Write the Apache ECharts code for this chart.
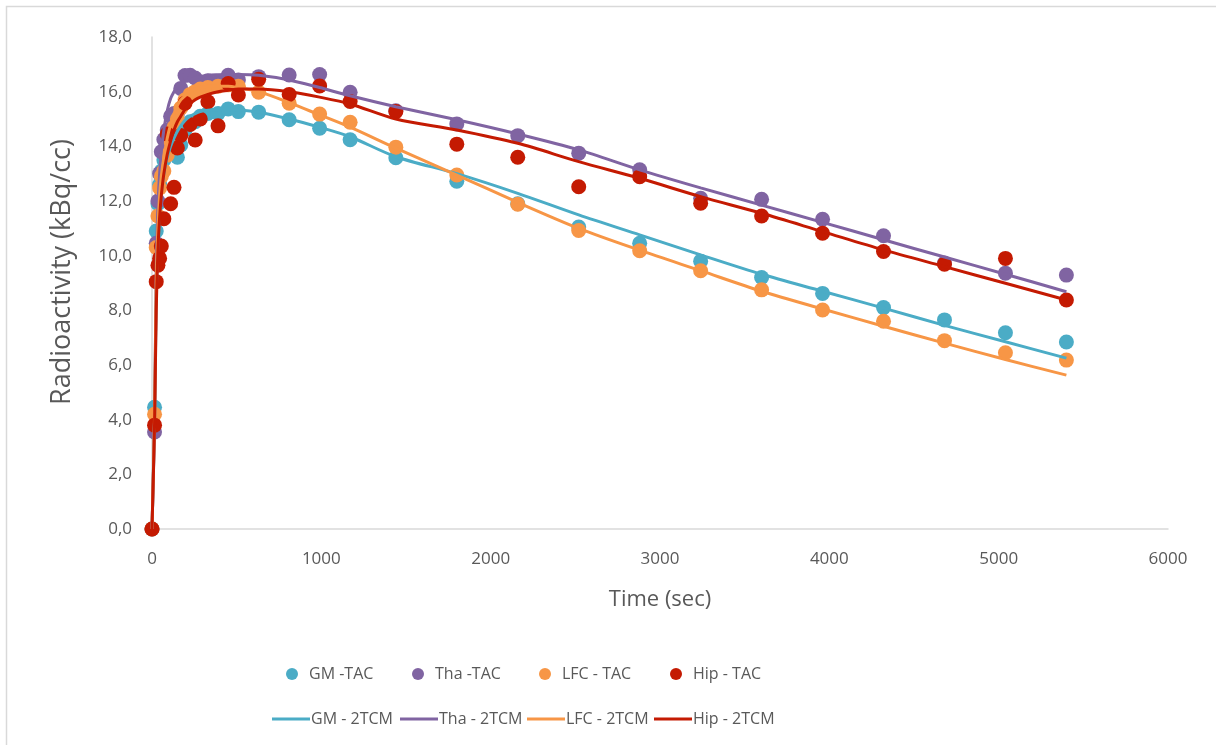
<!DOCTYPE html>
<html>
<head>
<meta charset="utf-8">
<script src="https://cdn.jsdelivr.net/npm/echarts@6/dist/echarts.min.js"></script>
<style>
html, body { margin: 0; padding: 0; background: #fff; }
#chart { width: 1216px; height: 745px; }
</style>
</head>
<body>
<div id="chart"></div>
<script>
// 时间点 (sec)
var times = [0, 15, 25, 35, 45, 55, 70, 90, 110, 130, 150, 170, 195, 225, 255, 285, 330, 390, 450, 510, 630, 810, 990, 1170, 1440, 1800, 2160, 2520, 2880, 3240, 3600, 3960, 4320, 4680, 5040, 5400];

// 实测 TAC
var gmTac  = [0, 4.45, 10.9, 11.9, 12.6, 13.1, 13.5, 13.9, 14.2, 14.4, 13.6, 14.05, 14.6, 14.9, 14.9, 15.1, 15.2, 15.2, 15.37, 15.27, 15.25, 14.97, 14.66, 14.24, 13.58, 12.72, 11.9, 11.05, 10.45, 9.8, 9.2, 8.62, 8.1, 7.65, 7.18, 6.84];
var thaTac = [0, 3.55, 10.45, 12.0, 13.0, 13.8, 14.25, 14.6, 15.1, 15.2, 15.2, 16.12, 16.59, 16.6, 16.5, 16.35, 16.4, 16.35, 16.6, 16.43, 16.55, 16.61, 16.63, 15.98, 15.3, 14.82, 14.39, 13.75, 13.14, 12.1, 12.06, 11.33, 10.73, 9.73, 9.36, 9.29];
var lfcTac = [0, 4.2, 10.3, 11.45, 12.48, 12.9, 13.1, 13.68, 14.2, 14.7, 15.0, 15.4, 15.7, 15.9, 16.0, 16.1, 16.15, 16.2, 16.25, 16.2, 15.98, 15.58, 15.18, 14.88, 13.97, 12.95, 11.88, 10.92, 10.18, 9.45, 8.75, 8.01, 7.6, 6.89, 6.45, 6.18];
var hipTac = [0, 3.8, 9.05, 9.65, 9.9, 10.35, 11.35, 14.45, 11.9, 12.5, 13.94, 14.4, 15.58, 14.8, 14.23, 15.0, 15.63, 14.75, 16.3, 15.88, 16.45, 15.9, 16.21, 15.64, 15.27, 14.08, 13.6, 12.52, 12.89, 11.92, 11.45, 10.82, 10.15, 9.69, 9.9, 8.38];

// 2TCM 拟合
var gmFit  = [0, 4.0, 8.5, 10.5, 11.6, 12.3, 13.0, 13.6, 14.0, 14.3, 14.55, 14.75, 14.95, 15.1, 15.2, 15.27, 15.32, 15.35, 15.35, 15.33, 15.25, 15.0, 14.7, 14.35, 13.62, 13.0, 12.28, 11.49, 10.76, 10.03, 9.32, 8.7, 8.08, 7.45, 6.85, 6.25];
var thaFit = [0, 4.0, 9.5, 11.8, 13.0, 13.8, 14.6, 15.3, 15.75, 16.0, 16.2, 16.3, 16.4, 16.45, 16.5, 16.55, 16.6, 16.62, 16.63, 16.63, 16.6, 16.43, 16.15, 15.85, 15.45, 14.97, 14.45, 13.87, 13.14, 12.48, 11.85, 11.22, 10.58, 9.95, 9.32, 8.68];
var lfcFit = [0, 4.1, 9.0, 11.0, 12.2, 12.9, 13.6, 14.3, 14.8, 15.2, 15.5, 15.7, 15.85, 16.0, 16.1, 16.15, 16.2, 16.2, 16.2, 16.15, 16.0, 15.6, 15.15, 14.7, 13.93, 12.95, 11.95, 11.0, 10.2, 9.45, 8.7, 8.05, 7.42, 6.8, 6.2, 5.63];
var hipFit = [0, 3.8, 8.0, 10.2, 11.4, 12.2, 13.0, 13.7, 14.2, 14.6, 14.9, 15.1, 15.35, 15.55, 15.7, 15.8, 15.9, 16.0, 16.05, 16.1, 16.1, 16.0, 15.8, 15.55, 15.0, 14.6, 14.11, 13.44, 12.83, 12.16, 11.55, 10.88, 10.21, 9.6, 8.99, 8.38];

var tacNames = ['GM -TAC', 'Tha -TAC', 'LFC - TAC', 'Hip - TAC'];
var fitNames = ['GM - 2TCM', 'Tha - 2TCM', 'LFC - 2TCM', 'Hip - 2TCM'];
var colors = ['#4BACC6', '#8064A2', '#F79646', '#C41A02'];

function pairs(vals) {
	var out = [];
	for (var i = 0; i < times.length; i++) {
		out.push([times[i], vals[i]]);
	}
	return out;
}

var tacData = [gmTac, thaTac, lfcTac, hipTac];
var fitData = [gmFit, thaFit, lfcFit, hipFit];

var series = [];
for (var a = 0; a < 4; a++) {
	series.push({
		name: tacNames[a],
		type: 'scatter',
		data: pairs(tacData[a]),
		symbolSize: 15,
		itemStyle: { color: colors[a], opacity: 1 }
	});
}
for (var b = 0; b < 4; b++) {
	series.push({
		name: fitNames[b],
		type: 'line',
		data: pairs(fitData[b]),
		smooth: 0.3,
		symbol: 'none',
		lineStyle: { color: colors[b], width: 3 },
		itemStyle: { color: colors[b] }
	});
}

// 图例：每项单独定位
var textColor = '#595959';
var legends = [];
var tacLeft = [281, 407, 534, 665];
var fitLeft = [267, 395, 522, 649];
for (var c = 0; c < 4; c++) {
	legends.push({
		left: tacLeft[c], top: 661,
		data: [tacNames[c]],
		icon: 'circle', itemWidth: 12, itemHeight: 12, itemGap: 0,
		textStyle: { color: textColor, fontSize: 16, fontFamily: 'Open Sans', padding: [0, 0, 0, 6] }
	});
	legends.push({
		left: fitLeft[c], top: 706,
		data: [fitNames[c]],
		icon: 'rect', itemWidth: 38, itemHeight: 3, itemGap: 0,
		textStyle: { color: textColor, fontSize: 16, fontFamily: 'Open Sans', padding: [0, 0, 0, -4] }
	});
}

var myChart = echarts.init(document.getElementById('chart'));
myChart.setOption({
	animation: false,
	backgroundColor: '#fff',
	graphic: [{
		type: 'rect',
		shape: { x: 6.5, y: 6.5, width: 1300, height: 900 },
		style: { fill: 'none', stroke: '#d9d9d9', lineWidth: 1.5 },
		silent: true
	}],
	grid: { left: 152, right: 48, top: 37, bottom: 216 },
	legend: legends,
	xAxis: {
		type: 'value',
		min: 0, max: 6000, interval: 1000,
		name: 'Time (sec)',
		nameLocation: 'middle',
		nameGap: 60,
		nameTextStyle: { color: textColor, fontSize: 22, fontFamily: 'Open Sans' },
		axisLine: { show: true, lineStyle: { color: '#d9d9d9', width: 1.5 } },
		axisTick: { show: false },
		splitLine: { show: false },
		axisLabel: {
			color: textColor, fontSize: 17, fontFamily: 'Open Sans', margin: 22,
			formatter: function(v) { return String(v); }
		}
	},
	yAxis: {
		type: 'value',
		min: 0, max: 18, interval: 2,
		name: 'Radioactivity (kBq/cc)',
		nameLocation: 'middle',
		nameGap: 76,
		nameTextStyle: { color: textColor, fontSize: 27, fontFamily: 'Open Sans', padding: [0, 0, 0, 22] },
		axisLine: { show: true, lineStyle: { color: '#d9d9d9', width: 1.5 } },
		axisTick: { show: false },
		splitLine: { show: false },
		axisLabel: {
			color: textColor, fontSize: 17, fontFamily: 'Open Sans', margin: 20,
			formatter: function(v) { return v.toFixed(1).replace('.', ','); }
		}
	},
	series: series
});
</script>
</body>
</html>
